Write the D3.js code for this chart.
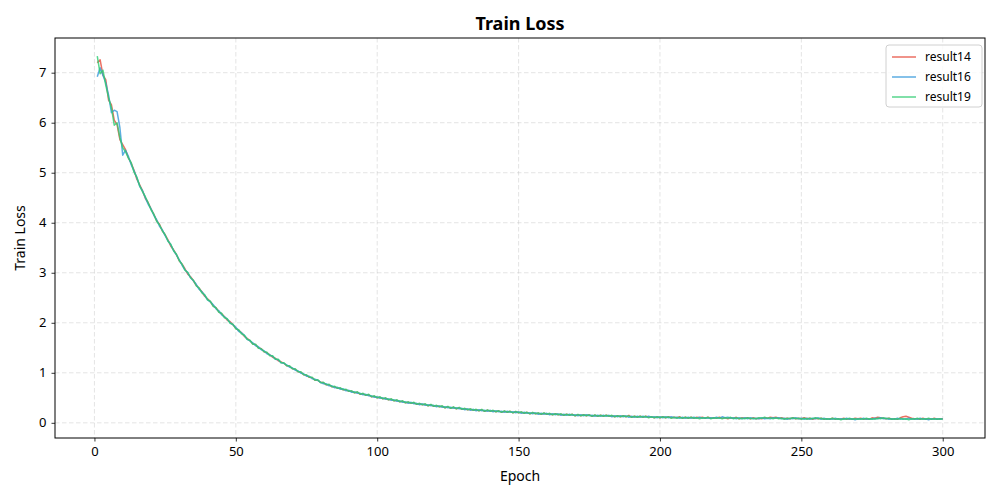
<!DOCTYPE html>
<html>
<head>
<meta charset="utf-8">
<script src="https://cdn.jsdelivr.net/npm/d3@7"></script>
<style>
  body { margin: 0; background: #fff; }
  text { font-family: "Noto Sans", "DejaVu Sans", sans-serif; }
</style>
</head>
<body>
<div id="chart"></div>
<script>
// Train loss per epoch (epochs 1..300)
const result14 = [
  7.20, 7.26, 6.95, 6.86, 6.45, 6.36, 6.05, 5.96, 5.66, 5.56,
  5.46, 5.30, 5.19, 5.05, 4.87, 4.76, 4.64, 4.49, 4.40, 4.28,
  4.17, 4.04, 3.97, 3.84, 3.76, 3.66, 3.53, 3.46, 3.36, 3.24,
  3.17, 3.08, 2.97, 2.92, 2.84, 2.75, 2.69, 2.62, 2.53, 2.48,
  2.42, 2.34, 2.30, 2.22, 2.18, 2.12, 2.05, 2.02, 1.96, 1.89,
  1.85, 1.80, 1.73, 1.69, 1.64, 1.58, 1.56, 1.50, 1.48, 1.42,
  1.40, 1.36, 1.31, 1.29, 1.24, 1.22, 1.19, 1.14, 1.13, 1.08,
  1.07, 1.02, 1.01, 0.96, 0.95, 0.91, 0.90, 0.85, 0.85, 0.81,
  0.80, 0.76, 0.76, 0.72, 0.72, 0.69, 0.69, 0.66, 0.66, 0.63,
  0.63, 0.60, 0.61, 0.57, 0.58, 0.55, 0.56, 0.52, 0.53, 0.50,
  0.51, 0.48, 0.49, 0.46, 0.47, 0.44, 0.45, 0.42, 0.43, 0.40,
  0.41, 0.39, 0.40, 0.37, 0.38, 0.36, 0.37, 0.34, 0.36, 0.33,
  0.34, 0.32, 0.33, 0.30, 0.32, 0.29, 0.31, 0.28, 0.30, 0.27,
  0.28, 0.26, 0.27, 0.25, 0.26, 0.24, 0.26, 0.23, 0.25, 0.23,
  0.24, 0.22, 0.24, 0.21, 0.23, 0.21, 0.23, 0.20, 0.22, 0.20,
  0.21, 0.19, 0.21, 0.18, 0.20, 0.18, 0.19, 0.17, 0.19, 0.17,
  0.18, 0.16, 0.18, 0.16, 0.17, 0.15, 0.17, 0.15, 0.17, 0.14,
  0.16, 0.14, 0.16, 0.14, 0.16, 0.13, 0.15, 0.13, 0.15, 0.13,
  0.15, 0.13, 0.14, 0.12, 0.14, 0.12, 0.14, 0.12, 0.15, 0.11,
  0.13, 0.11, 0.13, 0.11, 0.13, 0.11, 0.12, 0.10, 0.12, 0.10,
  0.12, 0.10, 0.12, 0.10, 0.11, 0.10, 0.12, 0.09, 0.11, 0.09,
  0.11, 0.09, 0.11, 0.10, 0.11, 0.09, 0.11, 0.09, 0.10, 0.09,
  0.11, 0.09, 0.10, 0.08, 0.10, 0.09, 0.11, 0.08, 0.10, 0.09,
  0.10, 0.08, 0.10, 0.08, 0.09, 0.08, 0.10, 0.09, 0.11, 0.10,
  0.11, 0.09, 0.10, 0.08, 0.09, 0.08, 0.10, 0.08, 0.09, 0.08,
  0.10, 0.08, 0.09, 0.07, 0.09, 0.08, 0.09, 0.07, 0.08, 0.07,
  0.09, 0.07, 0.08, 0.07, 0.09, 0.07, 0.08, 0.07, 0.09, 0.08,
  0.09, 0.07, 0.08, 0.07, 0.10, 0.09, 0.11, 0.10, 0.09, 0.08,
  0.09, 0.07, 0.08, 0.07, 0.10, 0.12, 0.13, 0.11, 0.09, 0.08,
  0.08, 0.07, 0.09, 0.07, 0.08, 0.07, 0.09, 0.07, 0.08, 0.08
];

const result16 = [
  6.92, 7.10, 6.95, 6.80, 6.55, 6.20, 6.25, 6.22, 5.90, 5.35,
  5.45, 5.33, 5.16, 5.04, 4.90, 4.73, 4.64, 4.50, 4.37, 4.28,
  4.15, 4.06, 3.93, 3.86, 3.74, 3.64, 3.56, 3.44, 3.36, 3.26,
  3.15, 3.06, 3.00, 2.90, 2.84, 2.77, 2.67, 2.62, 2.55, 2.46,
  2.42, 2.36, 2.28, 2.24, 2.16, 2.12, 2.07, 2.00, 1.96, 1.91,
  1.83, 1.80, 1.75, 1.67, 1.64, 1.60, 1.54, 1.52, 1.46, 1.44,
  1.38, 1.36, 1.33, 1.27, 1.26, 1.20, 1.19, 1.16, 1.11, 1.10,
  1.05, 1.04, 0.99, 0.98, 0.93, 0.93, 0.88, 0.87, 0.85, 0.81,
  0.78, 0.78, 0.74, 0.74, 0.70, 0.71, 0.67, 0.68, 0.64, 0.65,
  0.61, 0.62, 0.59, 0.59, 0.56, 0.57, 0.54, 0.54, 0.51, 0.52,
  0.49, 0.50, 0.47, 0.48, 0.45, 0.46, 0.43, 0.44, 0.41, 0.42,
  0.39, 0.41, 0.38, 0.39, 0.36, 0.38, 0.35, 0.36, 0.34, 0.35,
  0.32, 0.34, 0.31, 0.32, 0.30, 0.31, 0.29, 0.30, 0.28, 0.29,
  0.26, 0.28, 0.25, 0.27, 0.24, 0.26, 0.24, 0.25, 0.23, 0.25,
  0.22, 0.24, 0.22, 0.23, 0.21, 0.23, 0.21, 0.22, 0.20, 0.22,
  0.19, 0.21, 0.19, 0.20, 0.18, 0.20, 0.17, 0.19, 0.17, 0.19,
  0.16, 0.18, 0.16, 0.18, 0.15, 0.17, 0.15, 0.17, 0.15, 0.16,
  0.14, 0.16, 0.14, 0.16, 0.14, 0.15, 0.13, 0.15, 0.13, 0.15,
  0.13, 0.15, 0.12, 0.14, 0.12, 0.14, 0.12, 0.14, 0.11, 0.13,
  0.11, 0.13, 0.11, 0.13, 0.11, 0.13, 0.11, 0.12, 0.10, 0.12,
  0.10, 0.12, 0.10, 0.12, 0.10, 0.11, 0.09, 0.11, 0.09, 0.11,
  0.09, 0.11, 0.09, 0.11, 0.09, 0.10, 0.09, 0.10, 0.09, 0.11,
  0.09, 0.12, 0.10, 0.11, 0.09, 0.10, 0.08, 0.10, 0.08, 0.10,
  0.08, 0.10, 0.08, 0.09, 0.08, 0.10, 0.08, 0.09, 0.08, 0.10,
  0.09, 0.10, 0.08, 0.09, 0.07, 0.09, 0.08, 0.10, 0.08, 0.09,
  0.07, 0.09, 0.07, 0.09, 0.08, 0.10, 0.07, 0.09, 0.07, 0.08,
  0.07, 0.09, 0.07, 0.08, 0.07, 0.09, 0.07, 0.08, 0.06, 0.08,
  0.07, 0.09, 0.07, 0.08, 0.07, 0.09, 0.08, 0.10, 0.08, 0.09,
  0.07, 0.08, 0.07, 0.09, 0.07, 0.08, 0.07, 0.09, 0.07, 0.08,
  0.07, 0.09, 0.07, 0.08, 0.06, 0.08, 0.07, 0.08, 0.07, 0.08
];

const result19 = [
  7.33, 6.98, 7.05, 6.75, 6.50, 6.30, 5.95, 6.00, 5.70, 5.50,
  5.42, 5.29, 5.20, 5.01, 4.91, 4.74, 4.62, 4.52, 4.40, 4.26,
  4.17, 4.03, 3.96, 3.84, 3.76, 3.63, 3.57, 3.44, 3.37, 3.24,
  3.17, 3.05, 3.01, 2.90, 2.85, 2.74, 2.70, 2.60, 2.56, 2.46,
  2.43, 2.33, 2.30, 2.21, 2.19, 2.10, 2.08, 1.99, 1.97, 1.88,
  1.86, 1.78, 1.75, 1.67, 1.65, 1.57, 1.57, 1.49, 1.48, 1.42,
  1.41, 1.34, 1.34, 1.27, 1.27, 1.20, 1.20, 1.14, 1.14, 1.08,
  1.08, 1.02, 1.02, 0.96, 0.96, 0.91, 0.91, 0.85, 0.86, 0.80,
  0.81, 0.76, 0.77, 0.72, 0.73, 0.69, 0.70, 0.66, 0.67, 0.63,
  0.64, 0.60, 0.62, 0.57, 0.59, 0.55, 0.57, 0.52, 0.54, 0.50,
  0.52, 0.48, 0.50, 0.46, 0.48, 0.44, 0.46, 0.42, 0.44, 0.40,
  0.42, 0.39, 0.41, 0.37, 0.39, 0.36, 0.38, 0.34, 0.37, 0.33,
  0.35, 0.32, 0.34, 0.30, 0.33, 0.29, 0.32, 0.28, 0.31, 0.27,
  0.29, 0.26, 0.28, 0.25, 0.27, 0.24, 0.27, 0.23, 0.26, 0.23,
  0.25, 0.22, 0.24, 0.21, 0.24, 0.21, 0.23, 0.20, 0.23, 0.20,
  0.22, 0.19, 0.21, 0.18, 0.21, 0.18, 0.20, 0.17, 0.20, 0.17,
  0.19, 0.16, 0.18, 0.16, 0.18, 0.15, 0.17, 0.15, 0.17, 0.14,
  0.17, 0.14, 0.16, 0.14, 0.16, 0.13, 0.16, 0.13, 0.15, 0.13,
  0.15, 0.13, 0.15, 0.12, 0.14, 0.12, 0.14, 0.12, 0.14, 0.11,
  0.13, 0.11, 0.13, 0.11, 0.13, 0.10, 0.12, 0.10, 0.12, 0.10,
  0.12, 0.10, 0.12, 0.09, 0.11, 0.09, 0.11, 0.09, 0.11, 0.09,
  0.11, 0.09, 0.10, 0.08, 0.10, 0.09, 0.11, 0.08, 0.10, 0.09,
  0.10, 0.08, 0.10, 0.09, 0.11, 0.08, 0.10, 0.08, 0.09, 0.08,
  0.10, 0.08, 0.09, 0.08, 0.10, 0.09, 0.11, 0.09, 0.10, 0.08,
  0.10, 0.08, 0.09, 0.07, 0.09, 0.08, 0.10, 0.08, 0.09, 0.07,
  0.09, 0.07, 0.09, 0.08, 0.10, 0.08, 0.09, 0.07, 0.08, 0.07,
  0.09, 0.07, 0.08, 0.06, 0.08, 0.07, 0.09, 0.07, 0.08, 0.07,
  0.08, 0.07, 0.09, 0.07, 0.08, 0.07, 0.09, 0.08, 0.10, 0.08,
  0.09, 0.07, 0.08, 0.07, 0.09, 0.07, 0.08, 0.06, 0.08, 0.07,
  0.09, 0.07, 0.08, 0.07, 0.09, 0.07, 0.08, 0.07, 0.08, 0.07
];

const seriesNames = ["result14", "result16", "result19"];
const seriesColors = ["#e74c3c", "#3498db", "#2ecc71"];
const xTicks = [0, 50, 100, 150, 200, 250, 300];
const yTicks = [0, 1, 2, 3, 4, 5, 6, 7];

const W = 1000, H = 500;
const margin = { top: 38, right: 15, bottom: 62, left: 55 };
const width = W - margin.left - margin.right;
const height = H - margin.top - margin.bottom;

const allSeries = [result14, result16, result19];
const epochs = result14.map((d, i) => i + 1);

const svg = d3.select("#chart").append("svg")
  .attr("width", W)
  .attr("height", H);

const g = svg.append("g")
  .attr("transform", `translate(${margin.left},${margin.top})`);

// matplotlib-like 5% padding around data
const xMin = 1, xMax = epochs.length;
const xPad = (xMax - xMin) * 0.05;
const x = d3.scaleLinear().domain([xMin - xPad, xMax + xPad]).range([0, width]);

const yMin = d3.min(allSeries, s => d3.min(s));
const yMax = d3.max(allSeries, s => d3.max(s));
const yPad = (yMax - yMin) * 0.05;
const y = d3.scaleLinear().domain([yMin - yPad, yMax + yPad]).range([height, 0]);

// grid
g.append("g").selectAll("line")
  .data(xTicks).enter().append("line")
  .attr("x1", d => x(d)).attr("x2", d => x(d))
  .attr("y1", 0).attr("y2", height)
  .attr("stroke", "#b0b0b0").attr("stroke-opacity", 0.38)
  .attr("stroke-dasharray", "4.5,2.5").attr("stroke-width", 0.9);

g.append("g").selectAll("line")
  .data(yTicks).enter().append("line")
  .attr("x1", 0).attr("x2", width)
  .attr("y1", d => y(d)).attr("y2", d => y(d))
  .attr("stroke", "#b0b0b0").attr("stroke-opacity", 0.38)
  .attr("stroke-dasharray", "4.5,2.5").attr("stroke-width", 0.9);

// lines
const line = d3.line()
  .x((d, i) => x(epochs[i]))
  .y(d => y(d));

allSeries.forEach((s, k) => {
  g.append("path")
    .datum(s)
    .attr("fill", "none")
    .attr("stroke", seriesColors[k])
    .attr("stroke-opacity", 0.8)
    .attr("stroke-width", 1.5)
    .attr("stroke-linejoin", "round")
    .attr("d", line);
});

// axes
const xAxis = g.append("g")
  .attr("transform", `translate(0,${height})`)
  .call(d3.axisBottom(x).tickValues(xTicks).tickSize(3.5).tickPadding(5).tickFormat(d3.format("d")));

const yAxis = g.append("g")
  .call(d3.axisLeft(y).tickValues(yTicks).tickSize(3.5).tickPadding(5).tickFormat(d3.format("d")));

[xAxis, yAxis].forEach(a => {
  a.select(".domain").remove();
  a.selectAll("text").attr("font-size", 13).attr("fill", "#000")
    .style("font-family", '"Noto Sans", "DejaVu Sans", sans-serif');
  a.selectAll("line").attr("stroke", "#000").attr("stroke-width", 0.8);
});

// frame
g.append("rect")
  .attr("x", 0).attr("y", 0)
  .attr("width", width).attr("height", height)
  .attr("fill", "none").attr("stroke", "#000").attr("stroke-width", 1);

// titles
svg.append("text")
  .attr("x", margin.left + width / 2).attr("y", 30)
  .attr("text-anchor", "middle")
  .attr("font-size", 18).attr("font-weight", "bold")
  .text("Train Loss");

svg.append("text")
  .attr("x", margin.left + width / 2).attr("y", 481)
  .attr("text-anchor", "middle")
  .attr("font-size", 14)
  .text("Epoch");

svg.append("text")
  .attr("transform", `translate(25,${margin.top + height / 2}) rotate(-90)`)
  .attr("text-anchor", "middle")
  .attr("font-size", 14)
  .text("Train Loss");

// legend
const legend = g.append("g")
  .attr("transform", `translate(${width - 99},7)`);

legend.append("rect")
  .attr("width", 96).attr("height", 62)
  .attr("rx", 3)
  .attr("fill", "#fff").attr("fill-opacity", 0.8)
  .attr("stroke", "#d0d0d0");

seriesNames.forEach((name, k) => {
  const row = legend.append("g").attr("transform", `translate(0,${12 + k * 20})`);
  row.append("line")
    .attr("x1", 6).attr("x2", 30)
    .attr("stroke", seriesColors[k]).attr("stroke-opacity", 0.8)
    .attr("stroke-width", 1.5);
  row.append("text")
    .attr("x", 39).attr("dy", "0.35em")
    .attr("font-size", 12)
    .text(name);
});
</script>
</body>
</html>
